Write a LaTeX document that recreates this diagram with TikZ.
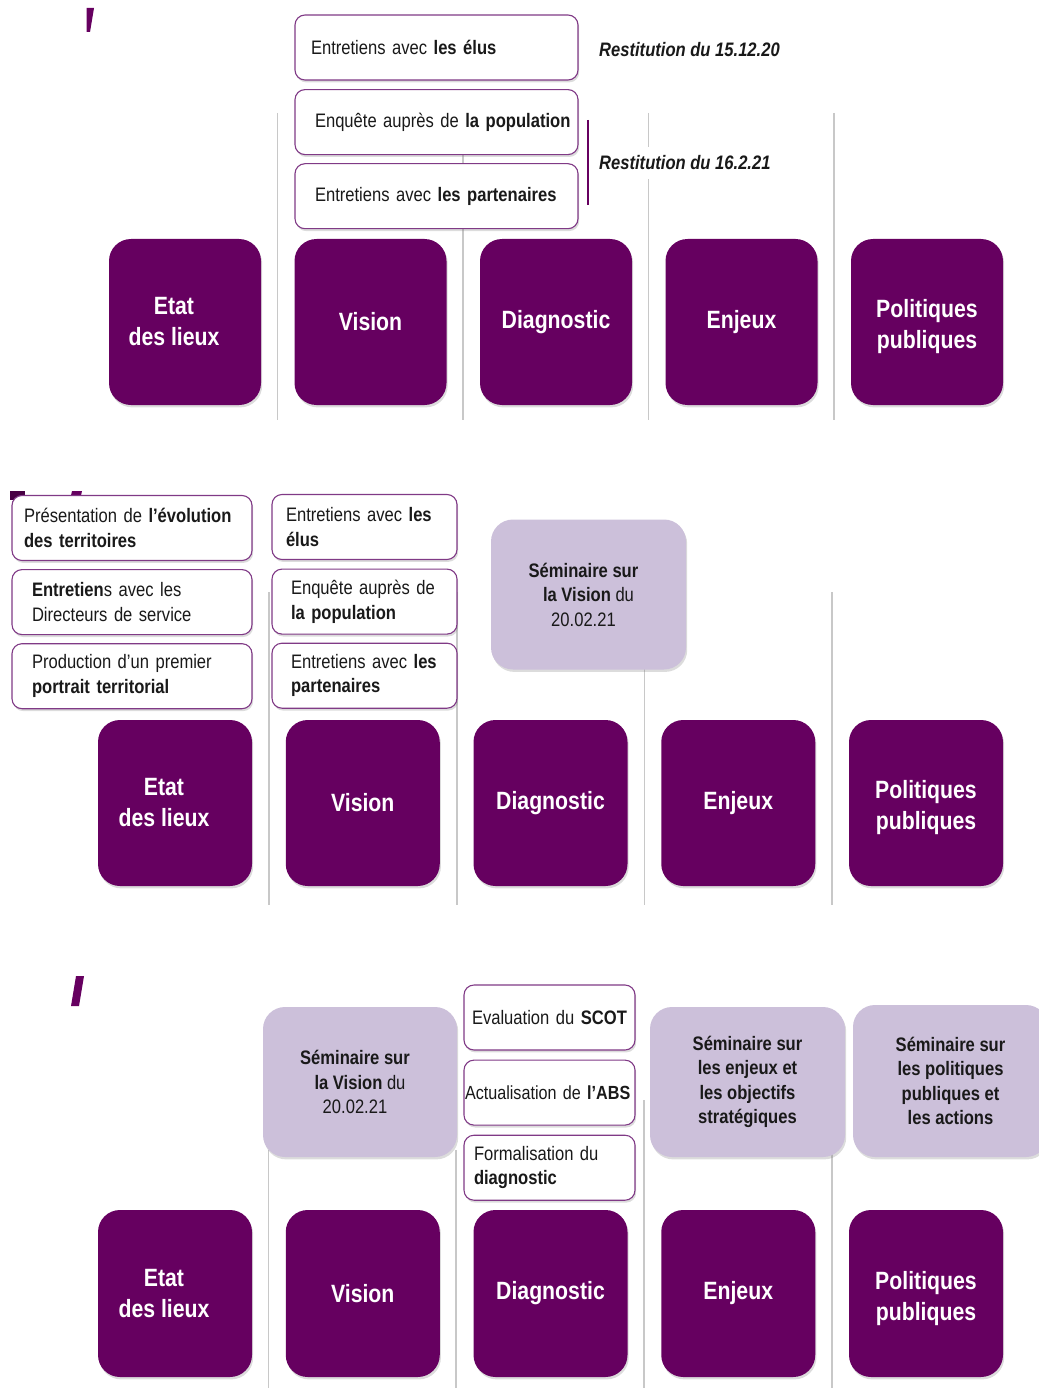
\documentclass[tikz,border=0pt]{standalone}
\usepackage{fontspec}
\setmainfont{Liberation Sans}[FakeStretch=0.85]
\usetikzlibrary{positioning,shadows}

\definecolor{plum}{RGB}{102,0,96}
\definecolor{lilac}{RGB}{204,192,218}
\definecolor{edgeplum}{RGB}{128,58,134}
\definecolor{sepgray}{RGB}{200,200,200}
\definecolor{ink}{RGB}{25,25,25}

\hyphenpenalty=10000
\exhyphenpenalty=10000

\begin{document}
\begin{tikzpicture}[x=1pt,y=-1pt]
        \tikzset{
                soft/.style    = {drop shadow={opacity=0.28, shadow xshift=1.2pt, shadow yshift=-2.4pt}},
                basic/.style   = {rectangle, inner sep=0pt, text=ink, soft},
                phase/.style   = {basic, fill=plum, text=white, rounded corners=22pt, align=center,
                                minimum width=154pt, minimum height=166pt,
                                font=\fontsize{25}{31}\selectfont\bfseries},
                task/.style    = {basic, draw=edgeplum, line width=1.1pt, fill=white, rounded corners=10pt,
                                align=left, minimum height=65pt, inner xsep=14pt,
                                font=\fontsize{19.5}{24.5}\selectfont},
                seminar/.style = {basic, fill=lilac, rounded corners=22pt, align=center,
                                minimum width=195pt, minimum height=150pt,
                                font=\fontsize{19.5}{24.5}\selectfont},
                restit/.style  = {rectangle, anchor=west, inner xsep=0pt, inner ysep=9pt, text=ink,
                                font=\fontsize{19.5}{24}\selectfont\bfseries\itshape},
                sep/.style     = {draw=sepgray, line width=1.6pt}
        }
        \useasboundingbox (0,0) rectangle (1038,1388);

        % grey separators between the phases (behind the boxes)
        \foreach \i/\top in {1/1150,2/1150,3/1100,4/1150} {
                \draw[sep] ({277.5+185.5*(\i-1)},113) -- ({277.5+185.5*(\i-1)},420);
                \draw[sep] ({269+187.75*(\i-1)},592) -- ({269+187.75*(\i-1)},905);
                \draw[sep] ({268.5+187.75*(\i-1)},\top) -- ({268.5+187.75*(\i-1)},1388);
        }

        % bits of the logo
        \fill[plum] (86.5,8) -- (94,8) -- (90,32) -- (86.5,32) -- cycle;
        \fill[plum!70!black] (10,491) rectangle (25,500);
        \fill[plum] (72,491) -- (82,491) -- (80,500) -- (70,500) -- cycle;
        \fill[plum] (76,976) -- (84,976) -- (79,1006) -- (71,1006) -- cycle;

        % Panel 1: the five phases
        \foreach \lab [count=\i] in {{Etat\hspace*{22pt}\\des lieux\hspace*{22pt}},Vision,Diagnostic,Enjeux,{\rule{0pt}{28pt}Politiques\\publiques}}
                \node[phase, minimum width=152pt] (a\i) at ({185+185.5*(\i-1)},322) {\lab};

        % Panel 1: tasks above Vision
        \begin{scope}[every node/.style={task, text width=275pt, inner xsep=4pt}]
                \node (t11) at (436.5,47.5) {\hspace*{12pt}Entretiens avec \textbf{les élus}};
                \node [below=8.5pt of t11] (t12) {\hspace*{16pt}Enquête auprès de \textbf{la population}};
                \node [below=8pt of t12] (t13) {\hspace*{16pt}Entretiens avec \textbf{les partenaires}};
        \end{scope}
        \draw[plum, line width=1.4pt] (588,120) -- (588,205);
        \node[restit] (r1) at (599,50) {Restitution du 15.12.20};
        \node[restit, fill=white] (r2) at (599,163) {Restitution du 16.2.21};

        % Panel 2: the five phases
        \foreach \lab [count=\i] in {{Etat\hspace*{22pt}\\des lieux\hspace*{22pt}},Vision,Diagnostic,Enjeux,{\rule{0pt}{28pt}Politiques\\publiques}}
                \node[phase] (b\i) at ({175+187.75*(\i-1)},803) {\lab};

        % Panel 2: tasks for Etat des lieux and Vision
        \begin{scope}[every node/.style={task, text width=216pt, inner xsep=12pt}]
                \node (t21) at (132,528) {Présentation de \textbf{l’évolution des territoires}};
                \node [below=8pt of t21] (t22) {\hspace*{8pt}\textbf{Entretien}s avec les\\\hspace*{8pt}Directeurs de service};
                \node [below=8pt of t22] (t23) {\hspace*{8pt}Production d’un premier\\\hspace*{8pt}\textbf{portrait territorial}};
        \end{scope}
        \begin{scope}[every node/.style={task, text width=157pt, inner xsep=14pt}]
                \node (t31) at (364.5,527) {Entretiens avec \textbf{les}\\\textbf{élus}};
                \node [below=8.5pt of t31] (t32) {\hspace*{5pt}Enquête auprès de\\\hspace*{5pt}\textbf{la population}};
                \node [below=8pt of t32] (t33) {\hspace*{5pt}Entretiens avec \textbf{les}\\\hspace*{5pt}\textbf{partenaires}};
        \end{scope}
        \node[seminar] (s2) at (588.5,594.5) {\textbf{Séminaire sur}\hspace*{10pt}\\\textbf{la Vision} du\hspace*{10pt}\\20.02.21\hspace*{10pt}};

        % Panel 3: the five phases
        \foreach \lab [count=\i] in {{Etat\hspace*{22pt}\\des lieux\hspace*{22pt}},Vision,Diagnostic,Enjeux,{\rule{0pt}{28pt}Politiques\\publiques}}
                \node[phase, minimum height=167pt] (c\i) at ({175+187.75*(\i-1)},1293.5) {\lab};

        % Panel 3: seminars and tasks for Diagnostic
        \node[seminar, minimum width=194pt] (s31) at (360,1082)
                {\textbf{Séminaire sur}\hspace*{10pt}\\\textbf{la Vision} du\hspace*{10pt}\\20.02.21\hspace*{10pt}};
        \begin{scope}[every node/.style={task, text width=159pt, inner xsep=6pt}]
                \node (t41) at (549.5,1017.5) {\hspace*{2pt}Evaluation du \textbf{SCOT}};
                \node [below=9pt of t41, text width=169pt, inner xsep=1pt, font=\fontsize{19}{24.5}\selectfont]
                        (t42) {Actualisation de \textbf{l’ABS}};
                \node [below=9pt of t42] (t43) {\hspace*{4pt}Formalisation du\\\hspace*{4pt}\textbf{diagnostic}};
        \end{scope}
        \node[seminar, font=\fontsize{19.5}{24.5}\selectfont\bfseries] (s32) at (747.5,1082)
                {Séminaire sur\\les enjeux et\\les objectifs\\stratégiques};
        \node[seminar, minimum height=152pt, font=\fontsize{19.5}{24.5}\selectfont\bfseries] (s33) at (950.5,1081)
                {Séminaire sur\\les politiques\\publiques et\\les actions};
\end{tikzpicture}
\end{document}
